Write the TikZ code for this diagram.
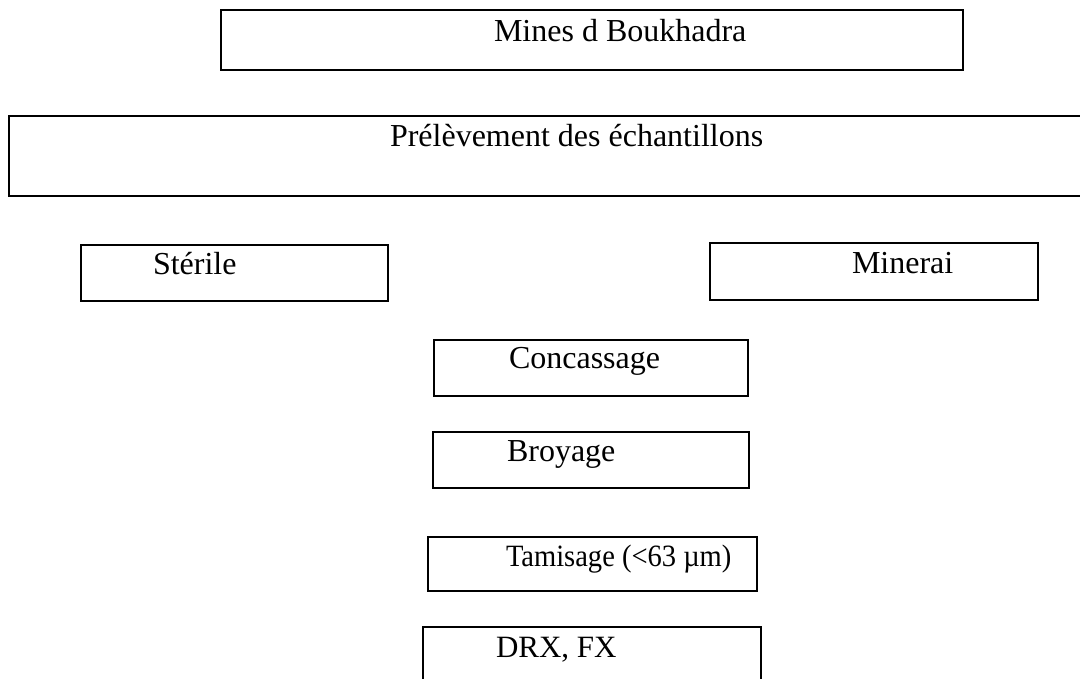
\documentclass[tikz,border=0pt]{standalone}
\usepackage{fontspec}
\setmainfont{Liberation Serif}
\begin{document}
\begin{tikzpicture}[x=1pt,y=-1pt,
  boxshape/.style={draw=black,line width=2.2pt,rectangle,inner sep=0pt,outer sep=0pt,anchor=north west},
  lbl/.style={inner sep=0pt,outer sep=0pt,anchor=base west,font=\fontsize{32}{38}\selectfont}]
\useasboundingbox (0,0) rectangle (1080,679);
\clip (0,0) rectangle (1080,679);
\fill[white] (0,0) rectangle (1080,679);
% boxes
\node[boxshape,minimum width=742pt,minimum height=60pt] (mines) at (221,10) {};
\node[boxshape,minimum width=1090pt,minimum height=80pt] (prel) at (9,116) {};
\node[boxshape,minimum width=307pt,minimum height=56pt] (steril) at (81,245) {};
\node[boxshape,minimum width=328pt,minimum height=57pt] (minerai) at (710,243) {};
\node[boxshape,minimum width=314pt,minimum height=56pt] (conc) at (434,340) {};
\node[boxshape,minimum width=316pt,minimum height=56pt] (broy) at (433,432) {};
\node[boxshape,minimum width=329pt,minimum height=54pt] (tamis) at (428,537) {};
\node[boxshape,minimum width=338pt,minimum height=80pt] (drx) at (423,627) {};
% labels
\node[lbl] (tmines) at (494,42) {Mines d Boukhadra};
\node[lbl] (tprel) at (390,147) {Prélèvement des échantillons};
\node[lbl] (tsteril) at (153,275) {Stérile};
\node[lbl] (tminerai) at (852,274) {Minerai};
\node[lbl] (tconc) at (509,368) {Concassage};
\node[lbl] (tbroy) at (507,461) {Broyage};
\node[lbl,font=\fontsize{31}{37}\selectfont] (ttamis) at (506,566) {\scalebox{0.92}[1]{Tamisage (<63 µm)}};
\node[lbl,font=\fontsize{31}{37}\selectfont] (tdrx) at (496,657) {DRX, FX};
\end{tikzpicture}
\end{document}
